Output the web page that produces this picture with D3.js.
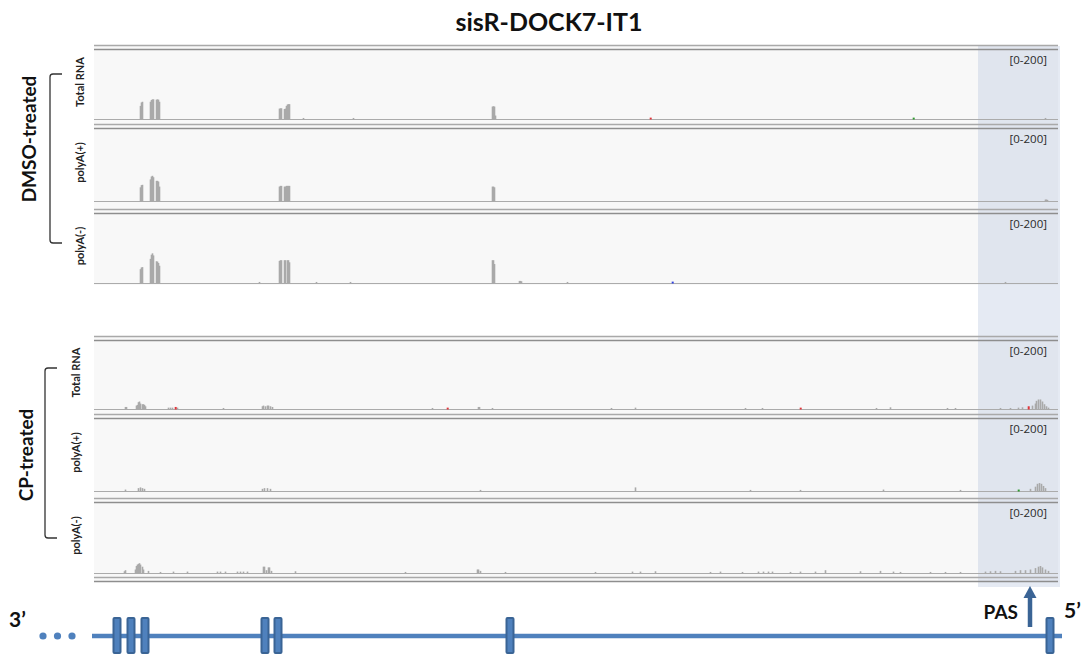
<!DOCTYPE html>
<html>
<head>
<meta charset="utf-8">
<script src="https://cdn.jsdelivr.net/npm/d3@7"></script>
<style>
  html, body { margin: 0; padding: 0; background: #ffffff; }
  svg { display: block; font-family: Lato, "Open Sans", sans-serif; }
</style>
</head>
<body>
<svg id="chart" width="1088" height="655"></svg>
<script>
// ---------------- DATA ----------------
const title = "sisR-DOCK7-IT1";
const conditions = ["DMSO-treated", "CP-treated"];
const libraries = ["Total RNA", "polyA(+)", "polyA(-)"];
const rangeLabel = "[0-200]";
const yMax = 200;
const regionDomain = [0, 964];          // genomic window (relative position)

// coverage: [position, reads]
const dmsoTotal = [[46,38],[47,48],[48,50],[56,50],[57,55],[58,57],[59,57],[62,56],[63,57],[64,56],[65,50],
  [185,30],[186,31],[187,31],[190,29],[191,30],[192,38],[193,42],[194,43],[195,43],[209,3],[259,3],
  [398,36],[399,37],[400,36],[401,10],[951,3]];
const dmsoPolyAplus = [[46,38],[47,44],[48,45],[56,60],[57,68],[58,70],[59,66],[62,56],[63,56],[64,54],[65,40],
  [185,40],[186,42],[187,42],[190,40],[191,40],[192,42],[193,42],[194,42],[195,42],
  [398,40],[399,40],[400,38],[951,4],[952,4],[953,3]];
const dmsoPolyAminus = [[46,40],[47,45],[48,46],[56,70],[57,82],[58,86],[59,80],[62,63],[63,62],[64,58],[65,50],
  [165,3],[185,64],[186,66],[187,66],[190,66],[191,66],[193,66],[194,66],[195,60],[222,3],[256,3],
  [398,66],[399,66],[400,55],[425,6],[426,6],[427,5],[473,3],[911,3]];
const cpTotal = [[31,6],[32,6],[42,10],[43,12],[44,20],[45,22],[46,16],[48,14],[49,14],[50,12],[51,8],
  [74,4],[76,4],[78,4],[83,4],[129,3],[168,8],[169,10],[171,8],[173,10],[174,10],[176,8],[178,6],
  [338,3],[384,6],[385,6],[398,3],[517,3],[541,4],[651,3],[668,3],[782,3],[796,5],[853,3],[861,3],
  [906,3],[916,3],[924,4],[928,5],[938,10],[941,16],[942,24],[944,28],[946,28],[948,22],[950,14],[952,8],[954,4]];
const cpPolyAplus = [[31,4],[44,8],[46,10],[48,8],[50,6],[168,6],[170,8],[173,8],[176,6],
  [386,3],[541,10],[656,3],[706,3],[789,4],[866,3],
  [936,6],[941,12],[943,20],[945,22],[947,20],[949,14],[951,8]];
const cpPolyAminus = [[30,5],[31,8],[41,10],[42,20],[43,24],[44,26],[45,28],[46,24],[48,18],[49,10],
  [54,6],[66,3],[79,4],[93,4],[123,4],[126,4],[131,4],[143,4],[146,4],[149,4],[153,4],
  [169,18],[170,18],[172,8],[174,16],[175,16],[177,6],[201,5],[311,3],[383,10],[384,10],[386,6],[411,3],
  [501,3],[538,4],[546,4],[561,5],[616,3],[626,4],[648,3],[664,4],[669,4],[674,4],[678,4],[696,3],
  [706,4],[721,4],[731,8],[766,5],[786,6],[799,4],[806,3],[836,3],[851,3],[866,3],
  [891,4],[896,5],[901,6],[906,5],[921,6],[926,8],[931,8],[936,10],[941,14],[944,18],[946,20],[948,16],[951,10],[954,6]];

// mismatched bases: [position, reads, base]
const dmsoTotalMis = [[556,4,"T"],[819,4,"A"]];
const dmsoPolyAplusMis = [];
const dmsoPolyAminusMis = [[578,4,"C"]];
const cpTotalMis = [[81,6,"T"],[353,4,"T"],[706,4,"T"],[934,8,"T"]];
const cpPolyAplusMis = [[924,4,"A"]];
const cpPolyAminusMis = [];

// gene model
const exons = [23, 37, 51, 171, 184, 416, 956];
const geneSpan = [-2, 968];
const pasPosition = 936;
const pasRegion = [884, 966];

// ---------------- DRAW ----------------
const svg = d3.select("#chart");
const bgLayer = svg.append("g");
const shadeLayer = svg.append("g");
const markLayer = svg.append("g");
const x = d3.scaleLinear().domain(regionDomain).range([94, 1058]);
const baseColor = { A: "#2e9a2e", C: "#2f3fe0", G: "#d08a1a", T: "#e0343a" };

const groups = [
  { name: conditions[0], tops: [45, 124, 209], bases: [119, 201, 283], closing: false,
    cov: [dmsoTotal, dmsoPolyAplus, dmsoPolyAminus], mis: [dmsoTotalMis, dmsoPolyAplusMis, dmsoPolyAminusMis],
    labelX: 28, labelY: 139, bracketX: 50, bracket: [74, 243], trackLabelX: 79 },
  { name: conditions[1], tops: [336, 414, 498], bases: [409, 491, 573], closing: true,
    cov: [cpTotal, cpPolyAplus, cpPolyAminus], mis: [cpTotalMis, cpPolyAplusMis, cpPolyAminusMis],
    labelX: 25, labelY: 455, bracketX: 45, bracket: [368, 538], trackLabelX: 75 }
];

// title
markLayer.append("text").attr("x", 549).attr("y", 31).attr("text-anchor", "middle")
  .attr("font-size", 25).attr("font-weight", 700).attr("fill", "#111").text(title);

const x0 = x(regionDomain[0]), x1 = x(regionDomain[1]);

groups.forEach(g => {
  const gTop = g.tops[0];
  const gBot = g.closing ? g.bases[2] + 9 : g.bases[2] + 2;
  bgLayer.append("rect").attr("x", x0).attr("y", gTop).attr("width", x1 - x0).attr("height", gBot - gTop)
    .attr("fill", "#f8f8f8");

  g.tops.forEach((top, i) => {
    const base = g.bases[i];
    const y = d3.scaleLinear().domain([0, yMax]).range([base, top + 5]);
    markLayer.append("line").attr("x1", x0).attr("x2", x1).attr("y1", top + 0.5).attr("y2", top + 0.5)
      .attr("stroke", "#a9a9a9").attr("stroke-width", 1.3);
    markLayer.append("line").attr("x1", x0).attr("x2", x1).attr("y1", top + 4.5).attr("y2", top + 4.5)
      .attr("stroke", "#8e8e8e").attr("stroke-width", 1.5);
    markLayer.append("line").attr("x1", x0).attr("x2", x1).attr("y1", base + 0.5).attr("y2", base + 0.5)
      .attr("stroke", "#ababab").attr("stroke-width", 1.2);
    markLayer.append("g").selectAll("rect").data(g.cov[i]).join("rect")
      .attr("x", d => x(d[0]) - 0.3)
      .attr("width", d => Math.max(1.6, x(d[0] + 1) - x(d[0]) + 0.6))
      .attr("y", d => y(d[1]))
      .attr("height", d => base - y(d[1]) + 0.5)
      .attr("fill", "#a9a9a9");
    markLayer.append("g").selectAll("rect").data(g.mis[i]).join("rect")
      .attr("x", d => x(d[0]) - 0.3)
      .attr("width", 2)
      .attr("y", d => y(d[1]))
      .attr("height", d => base - y(d[1]) + 0.5)
      .attr("fill", d => baseColor[d[2]]);
    markLayer.append("text").attr("x", 1047).attr("y", top + 19).attr("text-anchor", "end")
      .attr("font-size", 11.5).attr("fill", "#2a2a2a")
      .attr("font-family", "'Open Sans', sans-serif").text(rangeLabel);
    const cy = (top + base) / 2;
    markLayer.append("text").attr("transform", `translate(${g.trackLabelX},${cy}) rotate(-90)`)
      .attr("text-anchor", "middle").attr("dominant-baseline", "central")
      .attr("font-size", 11).attr("font-weight", 700).attr("fill", "#222").text(libraries[i]);
  });
  if (g.closing) {
    const b = g.bases[2];
    markLayer.append("line").attr("x1", x0).attr("x2", x1).attr("y1", b + 4.5).attr("y2", b + 4.5)
      .attr("stroke", "#a9a9a9").attr("stroke-width", 1.3);
    markLayer.append("line").attr("x1", x0).attr("x2", x1).attr("y1", b + 8.5).attr("y2", b + 8.5)
      .attr("stroke", "#8e8e8e").attr("stroke-width", 1.5);
  }
  const [b0, b1] = g.bracket;
  markLayer.append("text").attr("transform", `translate(${g.labelX},${g.labelY}) rotate(-90)`)
    .attr("text-anchor", "middle").attr("dominant-baseline", "central")
    .attr("font-size", 19).attr("font-weight", 700).attr("fill", "#111").text(g.name);
  markLayer.append("path")
    .attr("d", `M${g.bracketX + 12},${b0} L${g.bracketX + 3},${b0} Q${g.bracketX},${b0} ${g.bracketX},${b0 + 3}
                L${g.bracketX},${b1 - 3} Q${g.bracketX},${b1} ${g.bracketX + 3},${b1} L${g.bracketX + 12},${b1}`)
    .attr("fill", "none").attr("stroke", "#333").attr("stroke-width", 1.3);
});

// PAS highlight region (under marks)
shadeLayer.append("rect").attr("x", x(pasRegion[0])).attr("y", 46)
  .attr("width", x(pasRegion[1]) - x(pasRegion[0])).attr("height", 541)
  .attr("fill", "#b8c4de").attr("opacity", 0.36);

// gene model
const geneY = 636;
const blue = "#4f81bd", dark = "#3a6495";
[0, 1, 2].forEach(i => markLayer.append("circle").attr("cx", 43 + i * 14.5).attr("cy", geneY).attr("r", 3.6).attr("fill", blue));
markLayer.append("line").attr("x1", x(geneSpan[0])).attr("x2", x(geneSpan[1])).attr("y1", geneY).attr("y2", geneY)
  .attr("stroke", blue).attr("stroke-width", 4.5);
markLayer.append("g").selectAll("rect").data(exons).join("rect")
  .attr("x", d => x(d) - 3.5).attr("y", geneY - 18).attr("width", 7).attr("height", 35).attr("rx", 1)
  .attr("fill", blue).attr("stroke", dark).attr("stroke-width", 2);

// PAS arrow
const ax = x(pasPosition);
markLayer.append("line").attr("x1", ax).attr("x2", ax).attr("y1", 627).attr("y2", 596)
  .attr("stroke", dark).attr("stroke-width", 4.5);
markLayer.append("path").attr("d", `M${ax - 6.5},${598} L${ax},${586} L${ax + 6.5},${598} Z`).attr("fill", dark);
markLayer.append("text").attr("x", ax - 12).attr("y", 619).attr("text-anchor", "end")
  .attr("font-size", 19).attr("font-weight", 700).attr("fill", "#111").text("PAS");
markLayer.append("text").attr("x", 9).attr("y", 627).attr("font-size", 21).attr("font-weight", 700).attr("fill", "#111").text("3’");
markLayer.append("text").attr("x", 1064).attr("y", 618).attr("font-size", 21).attr("font-weight", 700).attr("fill", "#111").text("5’");
</script>
</body>
</html>
